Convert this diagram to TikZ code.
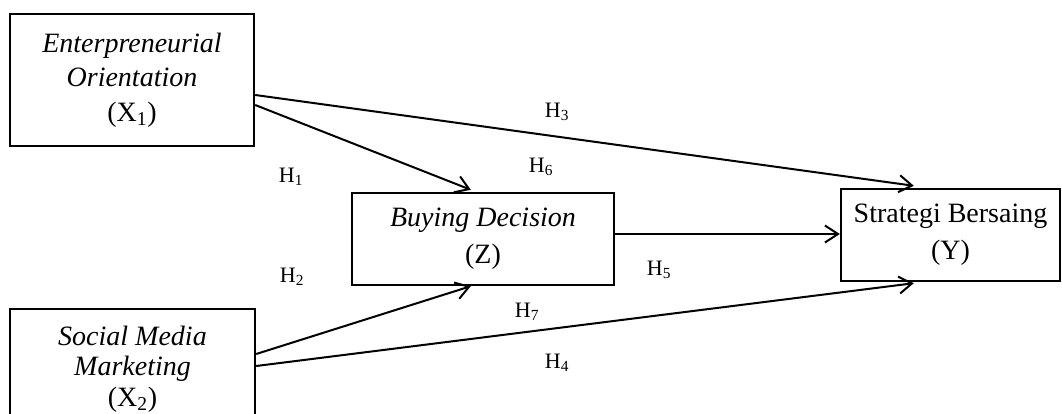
\documentclass[tikz,border=0pt]{standalone}
\usepackage{fontspec}
\setmainfont{Liberation Serif}
\usepackage{tikz}
\usetikzlibrary{positioning,arrows.meta,calc}

\begin{document}
\begin{tikzpicture}[x=1pt, y=-1pt,
    var/.style={draw, line width=2.4pt, inner sep=0pt, align=center,
        font=\fontsize{28}{37}\selectfont},
    arr/.style={line width=2pt, -{Straight Barb[length=13pt, width=17pt, line width=2pt]}},
    hyp/.style={font=\fontsize{22}{24}\selectfont}]
    \useasboundingbox (0,0) rectangle (1062,414);

    \node[var, minimum width=244pt, minimum height=132pt,
        font=\fontsize{28}{34.5}\selectfont] (x1) at (132,80)
        {\textit{Enterpreneurial}\\ \textit{Orientation}\\ (X\textsubscript{1})};
    \node[var, minimum width=245pt, minimum height=120pt,
        font=\fontsize{28}{30.5}\selectfont] (x2) at (132.5,369)
        {\textit{Social Media}\\ \textit{Marketing}\\ (X\textsubscript{2})};
    \node[var, minimum width=262pt, minimum height=92pt] (z) at (483,239)
        {\textit{Buying Decision}\\ (Z)};
    \node[var, minimum width=219pt, minimum height=92pt] (y) at (950.5,235)
        {Strategi Bersaing\\ (Y)};

    \draw[arr] ($(x1.east)+(0,25)$) -- ($(z.north west)+(120,-2)$);
    \draw[arr] ($(x1.east)+(0,15)$) -- ($(y.north west)+(74,-2)$);
    \draw[arr] ($(x2.east)+(0,-15)$) -- ($(z.south west)+(120,0)$);
    \draw[arr] ($(x2.east)+(0,-3)$) -- ($(y.south west)+(74,1)$);
    \draw[arr] ($(z.east)+(0,-5)$) -- ($(y.west)+(0,-1)$);

    \foreach \n/\x/\y in {1/291/177, 2/292/277, 3/557/112, 4/557/363,
        5/659/270, 6/541/167, 7/527/312}
        \node[hyp] (h\n) at (\x,\y) {H\textsubscript{\n}};
\end{tikzpicture}
\end{document}
